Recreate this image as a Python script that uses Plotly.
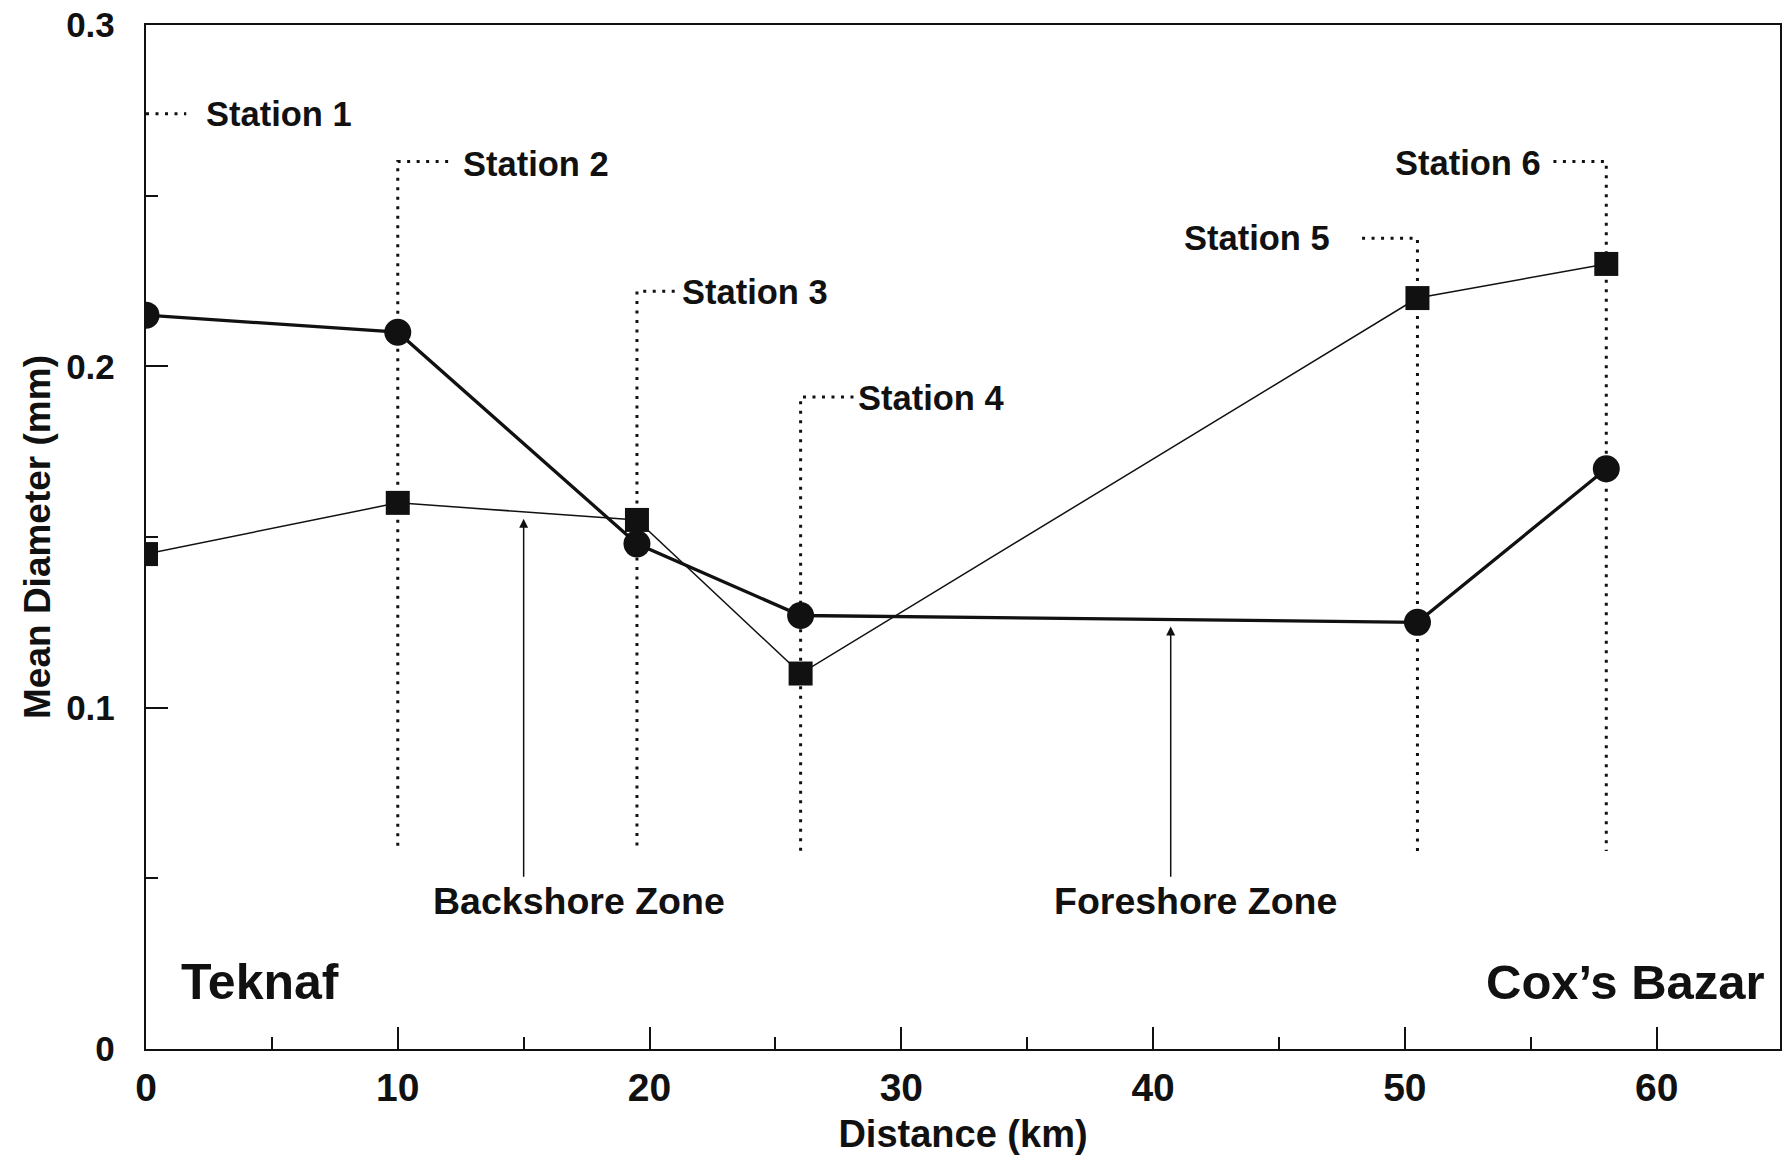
import numpy as np
import plotly.graph_objects as go

# Sampling stations along the beach, Teknaf (0 km) to Cox's Bazar
station_names = ["Station 1", "Station 2", "Station 3", "Station 4", "Station 5", "Station 6"]
distance_km = [0, 10, 19.5, 26, 50.5, 58]

# Mean grain diameter (mm) at each station
backshore_mm = [0.215, 0.210, 0.148, 0.127, 0.125, 0.170]   # filled circles, heavy line
foreshore_mm = [0.145, 0.160, 0.155, 0.110, 0.220, 0.230]   # filled squares, light line

x_ticks = [0, 10, 20, 30, 40, 50, 60]
y_ticks = [0, 0.1, 0.2, 0.3]

FONT = "Liberation Sans, Arial, Helvetica, sans-serif"
INK = "#111111"

fig = go.Figure()

# Leader lines for the station labels: a dotted drop-line at each station
# joined by a short dotted stub to its label
leader_top = [0.274, 0.260, 0.222, 0.191, 0.2375, 0.260]
stub_end = [1.6, 12.0, 21.0, 28.1, 48.3, 55.9]
leader_bottom = 0.058
for i, (xs, top, stub) in enumerate(zip(distance_km, leader_top, stub_end)):
    if i == 0:
        xs_line, ys_line = [xs, stub], [top, top]
    else:
        xs_line, ys_line = [stub, xs, xs], [top, top, leader_bottom]
    fig.add_trace(go.Scatter(
        x=xs_line, y=ys_line, mode="lines",
        line=dict(color=INK, width=3, dash="3px,6.5px"),
        hoverinfo="skip", showlegend=False,
    ))

fig.add_trace(go.Scatter(
    x=distance_km, y=foreshore_mm, mode="lines+markers", name="Foreshore",
    line=dict(color=INK, width=1.5),
    marker=dict(symbol="square", size=24, color=INK),
    showlegend=False,
))
fig.add_trace(go.Scatter(
    x=distance_km, y=backshore_mm, mode="lines+markers", name="Backshore",
    line=dict(color=INK, width=3.3),
    marker=dict(symbol="circle", size=27, color=INK),
    showlegend=False,
))

# Station labels (sit just under their leader stubs)
label_x = [2.3, 12.5, 21.2, 28.2, 47.1, 55.5]
label_drop = [0.0, 0.0006, 0.0002, 0.0002, 0.0, 0.0004]
label_anchor = ["left", "left", "left", "left", "right", "right"]
for name, lx, ly, dy, anc in zip(station_names, label_x, leader_top, label_drop, label_anchor):
    fig.add_annotation(
        x=lx, y=ly - dy, text=name, showarrow=False, xanchor=anc, yanchor="middle",
        font=dict(family=FONT, size=34.5, color=INK, weight="bold"),
    )

# Zone pointers: arrows rising from each zone label to its curve
zone_arrow_x = [15.0, 40.7]
zone_curves = [foreshore_mm, backshore_mm]
for ax_km, curve in zip(zone_arrow_x, zone_curves):
    tip = float(np.interp(ax_km, distance_km, curve))
    fig.add_annotation(
        x=ax_km, y=tip - 0.002, ax=ax_km, ay=0.050,
        xref="x", yref="y", axref="x", ayref="y",
        showarrow=True, arrowhead=2, arrowsize=1.2, arrowwidth=1.5,
        arrowcolor=INK, text="",
    )

zone_labels = ["Backshore Zone", "Foreshore Zone"]
zone_label_x = [17.2, 41.7]
for txt, zx in zip(zone_labels, zone_label_x):
    fig.add_annotation(
        x=zx, y=0.0435, text=txt, showarrow=False, xanchor="center", yanchor="middle",
        font=dict(family=FONT, size=37.5, color=INK, weight="bold"),
    )

# Beach end points
fig.add_annotation(
    x=1.3, y=0.0195, text="Teknaf", showarrow=False, xanchor="left", yanchor="middle",
    font=dict(family=FONT, size=50, color=INK, weight="bold"),
)
fig.add_annotation(
    x=64.4, y=0.0195, text="Cox\u2019s Bazar", showarrow=False, xanchor="right", yanchor="middle",
    font=dict(family=FONT, size=49, color=INK, weight="bold"),
)

axis_common = dict(
    showgrid=False, zeroline=False,
    showline=True, linecolor=INK, linewidth=2.4, mirror=True,
    ticks="inside", tickcolor=INK, tickwidth=1.6, ticklen=22,
)

fig.update_xaxes(
    range=[0, 64.9], tickvals=x_ticks, ticktext=[str(v) for v in x_ticks],
    tickfont=dict(family=FONT, size=39, color=INK, weight="bold"),
    ticklabelstandoff=3,
    minor=dict(dtick=5, tick0=0, ticks="inside", ticklen=12, tickwidth=1.6, tickcolor=INK),
    title=dict(text="Distance (km)", standoff=12,
               font=dict(family=FONT, size=38, color=INK, weight="bold")),
    **axis_common,
)
fig.update_yaxes(
    range=[0, 0.3], tickvals=y_ticks, ticktext=["0", "0.1", "0.2", "0.3"],
    tickfont=dict(family=FONT, size=35, color=INK, weight="bold"),
    ticklabelstandoff=22,
    minor=dict(dtick=0.05, tick0=0, ticks="inside", ticklen=12, tickwidth=1.6, tickcolor=INK),
    title=dict(text="Mean Diameter (mm)", standoff=4,
               font=dict(family=FONT, size=37, color=INK, weight="bold")),
    **axis_common,
)

fig.update_layout(
    width=1787, height=1160,
    margin=dict(l=146, r=5, t=21, b=111),
    paper_bgcolor="white", plot_bgcolor="white",
    showlegend=False,
)

fig.write_html("out.html")
